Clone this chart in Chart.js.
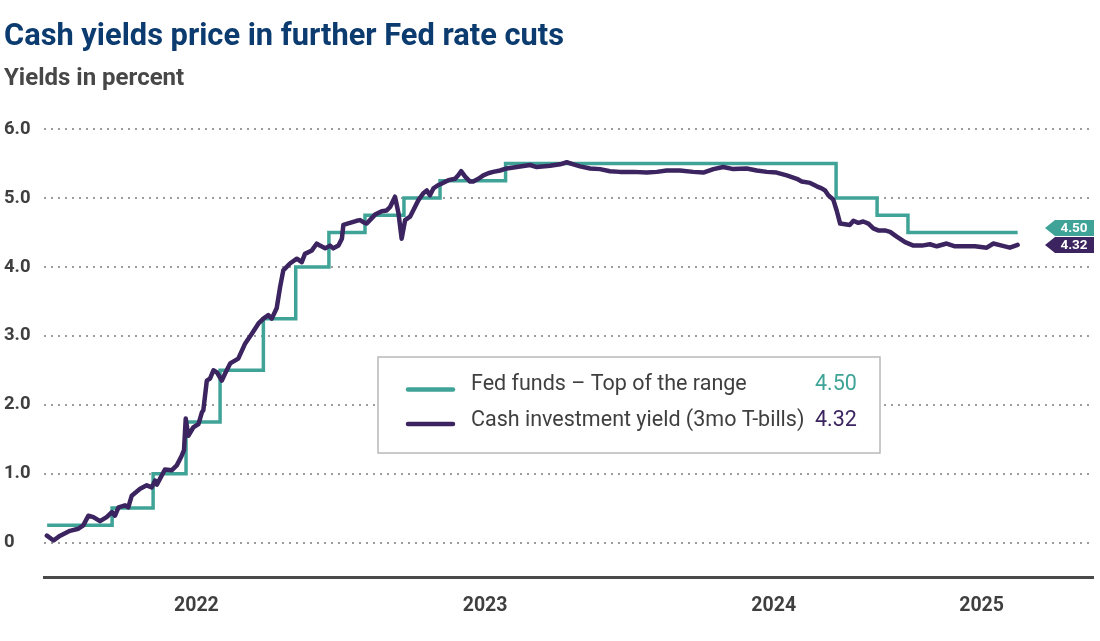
<!DOCTYPE html>
<html>
<head>
<meta charset="utf-8">
<script src="https://cdn.jsdelivr.net/npm/chart.js@4.4.1/dist/chart.umd.min.js"></script>
<style>
  html, body { margin: 0; padding: 0; background: #ffffff; }
  #wrap { width: 1100px; height: 641px; position: relative; }
</style>
</head>
<body>
<div id="wrap"><canvas id="c" width="1100" height="641"></canvas></div>
<script>
// ---- Data (x = decimal year) ----
const chartTitle = 'Cash yields price in further Fed rate cuts';
const chartSubtitle = 'Yields in percent';
const seriesNames = ['Fed funds \u2013 Top of the range', 'Cash investment yield (3mo T-bills)'];

// Fed funds, top of range: value effective from each date (step changes)
const fedDates  = [2021.983, 2022.208, 2022.350, 2022.464, 2022.582, 2022.732, 2022.844, 2022.959, 2023.084, 2023.219, 2023.344, 2023.571, 2024.716, 2024.858, 2024.965, 2025.345];
const fedValues = [0.25, 0.50, 1.00, 1.75, 2.50, 3.25, 4.00, 4.50, 4.75, 5.00, 5.25, 5.50, 5.00, 4.75, 4.50, 4.50];

// 3-month T-bill yield
const billDates = [
  2021.982, 2022.005, 2022.028, 2022.062, 2022.091, 2022.108, 2022.126, 2022.143, 2022.166, 2022.189,
  2022.207, 2022.218, 2022.230, 2022.253, 2022.264, 2022.276, 2022.305, 2022.328, 2022.345, 2022.357,
  2022.363, 2022.391, 2022.415, 2022.432, 2022.449, 2022.457, 2022.463, 2022.472, 2022.489, 2022.507,
  2022.519, 2022.524, 2022.536, 2022.547, 2022.559, 2022.571, 2022.588, 2022.599, 2022.617, 2022.645,
  2022.669, 2022.692, 2022.715, 2022.732, 2022.749, 2022.761, 2022.778, 2022.790, 2022.801, 2022.824,
  2022.848, 2022.865, 2022.876, 2022.900, 2022.917, 2022.928, 2022.946, 2022.963, 2022.974, 2022.992,
  2023.004, 2023.009, 2023.032, 2023.055, 2023.067, 2023.078, 2023.090, 2023.101, 2023.119, 2023.142,
  2023.159, 2023.171, 2023.188, 2023.200, 2023.211, 2023.223, 2023.240, 2023.251, 2023.269, 2023.286,
  2023.298, 2023.309, 2023.321, 2023.338, 2023.350, 2023.373, 2023.396, 2023.407, 2023.417, 2023.431,
  2023.448, 2023.459, 2023.477, 2023.494, 2023.511, 2023.528, 2023.552, 2023.575, 2023.610, 2023.656,
  2023.679, 2023.725, 2023.760, 2023.783, 2023.806, 2023.829, 2023.864, 2023.898, 2023.933, 2023.967,
  2024.014, 2024.060, 2024.095, 2024.129, 2024.175, 2024.221, 2024.256, 2024.291, 2024.325, 2024.360,
  2024.406, 2024.441, 2024.476, 2024.510, 2024.545, 2024.580, 2024.597, 2024.626, 2024.649, 2024.666,
  2024.678, 2024.689, 2024.706, 2024.718, 2024.730, 2024.747, 2024.764, 2024.776, 2024.793, 2024.810,
  2024.828, 2024.845, 2024.862, 2024.885, 2024.903, 2024.926, 2024.955, 2024.984, 2025.013, 2025.041,
  2025.065, 2025.099, 2025.128, 2025.157, 2025.197, 2025.238, 2025.261, 2025.290, 2025.318, 2025.345
];
const billValues = [
  0.10, 0.03, 0.10, 0.17, 0.20, 0.25, 0.39, 0.37, 0.31, 0.37,
  0.44, 0.39, 0.51, 0.54, 0.51, 0.68, 0.78, 0.83, 0.80, 0.90,
  0.84, 1.06, 1.05, 1.12, 1.26, 1.34, 1.80, 1.55, 1.67, 1.72,
  1.89, 1.92, 2.35, 2.38, 2.50, 2.47, 2.35, 2.45, 2.60, 2.67,
  2.89, 3.03, 3.18, 3.25, 3.30, 3.25, 3.40, 3.71, 3.95, 4.05,
  4.12, 4.07, 4.19, 4.24, 4.34, 4.31, 4.27, 4.31, 4.27, 4.31,
  4.41, 4.61, 4.64, 4.67, 4.68, 4.65, 4.63, 4.68, 4.76, 4.81,
  4.82, 4.87, 5.02, 4.78, 4.41, 4.68, 4.73, 4.82, 4.97, 5.07,
  5.11, 5.04, 5.14, 5.19, 5.21, 5.26, 5.28, 5.33, 5.39, 5.31,
  5.24, 5.24, 5.28, 5.33, 5.36, 5.38, 5.40, 5.43, 5.45, 5.48,
  5.45, 5.47, 5.49, 5.52, 5.49, 5.46, 5.43, 5.42, 5.39, 5.38,
  5.38, 5.37, 5.38, 5.40, 5.40, 5.38, 5.37, 5.42, 5.45, 5.42,
  5.43, 5.40, 5.38, 5.37, 5.33, 5.28, 5.24, 5.22, 5.17, 5.14,
  5.11, 5.04, 4.98, 4.82, 4.63, 4.62, 4.61, 4.67, 4.64, 4.66,
  4.63, 4.56, 4.53, 4.53, 4.51, 4.44, 4.36, 4.31, 4.31, 4.33,
  4.30, 4.34, 4.30, 4.30, 4.30, 4.28, 4.34, 4.31, 4.28, 4.32
];

const yTickValues = [0, 1, 2, 3, 4, 5, 6];
const xTickValues = [2022.5, 2023.5, 2024.5, 2025.22];
const xTickLabels = ['2022', '2023', '2024', '2025'];

// ---- Styles ----
const TEAL = '#3fa497';
const PURPLE = '#3b245f';
const FONT = 'Roboto';

function toPoints(xs, ys) { return xs.map((x, i) => ({ x: x, y: ys[i] })); }

const overlayPlugin = {
  id: 'overlay',
  afterDatasetsDraw(chart) {
    const ctx = chart.ctx;
    const ys = chart.scales.y;
    const fedLast = fedValues[fedValues.length - 1];
    const billLast = billValues[billValues.length - 1];

    // Legend box
    const bx = 378, by = 357, bw = 502, bh = 96;
    ctx.save();
    ctx.fillStyle = '#ffffff';
    ctx.fillRect(bx, by, bw, bh);
    ctx.strokeStyle = '#b8b8b8';
    ctx.lineWidth = 1.5;
    ctx.strokeRect(bx, by, bw, bh);
    const rows = [
      { color: TEAL, name: seriesNames[0], val: fedLast.toFixed(2), y: 385, ly: 389.5 },
      { color: PURPLE, name: seriesNames[1], val: billLast.toFixed(2), y: 420.5, ly: 424 }
    ];
    rows.forEach(r => {
      ctx.strokeStyle = r.color;
      ctx.lineWidth = 4.5;
      ctx.lineCap = 'round';
      ctx.beginPath();
      ctx.moveTo(408, r.ly);
      ctx.lineTo(453, r.ly);
      ctx.stroke();
      ctx.font = '400 21.5px ' + FONT;
      ctx.textBaseline = 'middle';
      ctx.textAlign = 'left';
      ctx.fillStyle = '#3f3f3f';
      ctx.fillText(r.name, 471, r.y);
      ctx.fillStyle = r.color;
      ctx.fillText(r.val, 815, r.y);
    });

    // Right-side value tags (upper tag pushed up if they would overlap)
    const tagH = 16;
    const y2 = ys.getPixelForValue(billLast);
    let y1 = ys.getPixelForValue(fedLast);
    const gap = tagH + 1;
    if (y2 - y1 < gap) { y1 = y2 - gap; }
    const tags = [
      { y: y1, color: TEAL, text: fedLast.toFixed(2) },
      { y: y2, color: PURPLE, text: billLast.toFixed(2) }
    ];
    tags.forEach(t => {
      const tip = 1045, left = 1055, right = 1094;
      ctx.fillStyle = t.color;
      ctx.beginPath();
      ctx.moveTo(tip, t.y);
      ctx.lineTo(left, t.y - tagH / 2);
      ctx.lineTo(right, t.y - tagH / 2);
      ctx.lineTo(right, t.y + tagH / 2);
      ctx.lineTo(left, t.y + tagH / 2);
      ctx.closePath();
      ctx.fill();
      ctx.fillStyle = '#ffffff';
      ctx.font = '700 13.5px ' + FONT;
      ctx.textAlign = 'center';
      ctx.textBaseline = 'middle';
      ctx.fillText(t.text, 1074, t.y + 0.5);
    });
    ctx.restore();
  }
};

new Chart(document.getElementById('c'), {
  type: 'line',
  data: {
    datasets: [
      {
        label: seriesNames[0],
        data: toPoints(fedDates, fedValues),
        borderColor: TEAL,
        backgroundColor: TEAL,
        borderWidth: 3.5,
        stepped: 'before',
        pointRadius: 0,
        order: 1
      },
      {
        label: seriesNames[1],
        data: toPoints(billDates, billValues),
        borderColor: PURPLE,
        backgroundColor: PURPLE,
        borderWidth: 4.5,
        tension: 0,
        pointRadius: 0,
        borderJoinStyle: 'round',
        borderCapStyle: 'round',
        order: 0
      }
    ]
  },
  options: {
    responsive: false,
    animation: false,
    devicePixelRatio: 1,
    layout: { padding: { left: 4, right: 7, top: 0, bottom: 0 } },
    plugins: {
      legend: { display: false },
      tooltip: { enabled: false },
      title: {
        display: true,
        text: chartTitle,
        align: 'start',
        color: '#0b3b6f',
        font: { family: FONT, size: 30.8, weight: 'bold' },
        padding: { top: 19, bottom: 0 }
      },
      subtitle: {
        display: true,
        text: chartSubtitle,
        align: 'start',
        color: '#474747',
        font: { family: FONT, size: 24, weight: 'bold' },
        padding: { top: 9, bottom: 35.4 }
      }
    },
    scales: {
      x: {
        type: 'linear',
        min: 2021.972,
        max: 2025.606,
        afterBuildTicks(scale) { scale.ticks = xTickValues.map(v => ({ value: v })); },
        afterFit(scale) { scale.height = 64; },
        grid: { display: false, drawTicks: false },
        border: { display: true, color: '#4a4a4a', width: 3 },
        ticks: {
          padding: 17,
          maxRotation: 0,
          autoSkip: false,
          color: '#3f3f3f',
          font: { family: FONT, size: 19.5, weight: 'bold' },
          callback(v, i) { return xTickLabels[i]; }
        }
      },
      y: {
        min: -0.5,
        max: 6,
        afterBuildTicks(scale) { scale.ticks = yTickValues.map(v => ({ value: v })); },
        afterFit(scale) { scale.width = 40; },
        grid: { display: true, drawTicks: false, color: '#9c9c9c', lineWidth: 2 },
        border: { display: false, dash: [2, 5] },
        ticks: {
          crossAlign: 'far',
          padding: 0,
          color: '#3f3f3f',
          font: { family: FONT, size: 18.5, weight: 'bold' },
          callback(v) { return v === 0 ? '0' : v.toFixed(1); }
        }
      }
    }
  },
  plugins: [overlayPlugin]
});
</script>
</body>
</html>
